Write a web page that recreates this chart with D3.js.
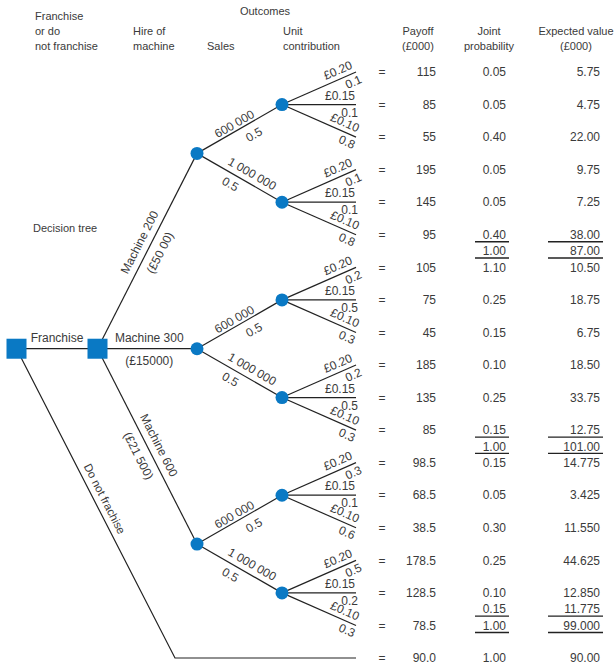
<!DOCTYPE html>
<html><head><meta charset="utf-8">
<script src="https://cdn.jsdelivr.net/npm/d3@7"></script>
<style>
body{margin:0;background:#fff}
text{font-family:"Liberation Sans",Arial,sans-serif;fill:#3a3a3a}
</style>
</head><body><svg id="chart" width="616" height="665"></svg>
<script>
// ---------- data ----------
const machines = ["Machine 200", "Machine 300", "Machine 600"];
const machineCosts = ["(£50 00)", "(£15000)", "(£21 500)"];
const salesLevels = ["600 000", "1 000 000"];
const salesProbs = ["0.5", "0.5"];
const unitContribs = ["£0.20", "£0.15", "£0.10"];
const contribProbs = [
  [["0.1", "0.1", "0.8"], ["0.1", "0.1", "0.8"]],
  [["0.2", "0.5", "0.3"], ["0.2", "0.5", "0.3"]],
  [["0.3", "0.1", "0.6"], ["0.5", "0.2", "0.3"]]
];
const payoffs = ["115","85","55","195","145","95","105","75","45","185","135","85","98.5","68.5","38.5","178.5","128.5","78.5","90.0"];
const tableRows = [0,1,2,3,4,5,5.5,6,7,8,9,10,11,11.5,12,13,14,15,16,16.5,17,18];
const jointProbs = ["0.05","0.05","0.40","0.05","0.05","0.40","1.00","1.10","0.25","0.15","0.10","0.25","0.15","1.00","0.15","0.05","0.30","0.25","0.10","0.15","1.00","1.00"];
const expectedValues = ["5.75","4.75","22.00","9.75","7.25","38.00","87.00","10.50","18.75","6.75","18.50","33.75","12.75","101.00","14.775","3.425","11.550","44.625","12.850","11.775","99.000","90.00"];
const underlined = [0,0,0,0,0,1,1,0,0,0,0,0,1,1,0,0,0,0,0,1,1,0];
const headerLines = [
  {col:"c1", lines:["Franchise","or do","not franchise"], anchor:"start"},
  {col:"c2", lines:["","Hire of","machine"], anchor:"start"},
  {col:"c3", lines:["","","Sales"], anchor:"start"},
  {col:"c4", lines:["","Unit","contribution"], anchor:"start"},
  {col:"c5", lines:["","Payoff","(£000)"], anchor:"middle"},
  {col:"c6", lines:["","Joint","probability"], anchor:"middle"},
  {col:"c7", lines:["","Expected value","(£000)"], anchor:"middle"}
];
const outcomesTitle = "Outcomes";
const chartTitle = "Decision tree";
const franchiseLabel = "Franchise";
const noFranchiseLabel = "Do not frachise";

// ---------- scales ----------
const rowY = d3.scaleLinear().domain([0, 18]).range([72, 658]);
const depthX = d3.scaleOrdinal().domain([0,1,2,3,4,"elbow"]).range([16.5, 97.5, 197, 282, 356, 175]);
const colX = d3.scaleOrdinal().domain(["eq","payoff","joint","ev","c1","c2","c3","c4","c5","c6","c7","outcomes"])
  .range([382, 436, 506, 600, 35, 133, 207, 283, 418, 489, 576, 265]);
const headY = d3.scaleLinear().domain([0, 2]).range([16, 46]);

const BLUE = "#0a79c4", INK = "#222";
const svg = d3.select("#chart");

// ---------- tree structure ----------
let leafIdx = 0;
const treeData = {type: "decision", children: [
  {type: "decision", edge: franchiseLabel, children: machines.map((m, i) => ({
    type: "chance", edge: m, edge2: machineCosts[i], mi: i,
    children: salesLevels.map((s, j) => ({
      type: "chance", edge: s, edge2: salesProbs[j], sj: j,
      children: unitContribs.map((u, k) => ({type: "leaf", edge: u, edge2: contribProbs[i][j][k], row: leafIdx++, k}))
    }))
  }))},
  {type: "terminal", edge: noFranchiseLabel, row: 18}
]};
const root = d3.hierarchy(treeData);
root.eachAfter(n => {
  n.px = n.data.type === "terminal" ? depthX(4) : depthX(n.depth);
  if (n.data.row != null) n.py = rowY(n.data.row);
  else n.py = d3.mean(n.children.filter(c => c.data.type !== "terminal"), c => c.py);
});

const gLinks = svg.append("g");
const gLabels = svg.append("g");
const gNodes = svg.append("g");

function along(x1, y1, x2, y2, t, off, text, opts = {}) {
  const ang = Math.atan2(y2 - y1, x2 - x1) * 180 / Math.PI;
  const px = x1 + (x2 - x1) * t, py = y1 + (y2 - y1) * t;
  gLabels.append("text")
    .attr("transform", `translate(${px},${py}) rotate(${ang})`)
    .attr("x", opts.dx || 0).attr("y", off).attr("dy", "0.35em")
    .attr("text-anchor", opts.anchor || "middle")
    .style("font-size", (opts.size || 12) + "px")
    .text(text);
}

root.descendants().forEach(n => {
  if (!n.parent) return;
  const p = n.parent, d = n.data;
  if (d.type === "terminal") {
    gLinks.append("polyline")
      .attr("points", [[p.px, p.py], [depthX("elbow"), n.py], [n.px, n.py]].map(q => q.join(",")).join(" "))
      .attr("fill", "none").attr("stroke", INK).attr("stroke-width", 1.2);
    along(p.px, p.py, depthX("elbow"), n.py, 0.5, -10, d.edge, {size: 11.5});
    return;
  }
  gLinks.append("line").attr("x1", p.px).attr("y1", p.py).attr("x2", n.px).attr("y2", n.py)
    .attr("stroke", INK).attr("stroke-width", 1.2);
  if (n.depth === 1) {
    along(p.px, p.py, n.px, n.py, 0.5, -11, d.edge);
  } else if (n.depth === 2) {
    along(p.px, p.py, n.px, n.py, 0.52, -11, d.edge);
    along(p.px, p.py, n.px, n.py, 0.52, 12, d.edge2);
  } else if (n.depth === 3) {
    if (d.sj === 0) {
      along(p.px, p.py, n.px, n.py, 0.48, -7, d.edge);
      along(p.px, p.py, n.px, n.py, 0.6, 12, d.edge2);
    } else {
      along(p.px, p.py, n.px, n.py, 0.59, -10, d.edge);
      along(p.px, p.py, n.px, n.py, 0.45, 10, d.edge2);
    }
  } else if (n.depth === 4) {
    along(p.px, p.py, n.px, n.py, 1, -9, d.edge, {anchor: "end", dx: -1});
    along(p.px, p.py, n.px, n.py, 1, 8, d.edge2, {anchor: "end", dx: 2});
  }
});

// nodes
root.descendants().forEach(n => {
  if (n.data.type === "decision") {
    gNodes.append("rect").attr("x", n.px - 10).attr("y", n.py - 10).attr("width", 20).attr("height", 20).attr("fill", BLUE);
  } else if (n.data.type === "chance") {
    gNodes.append("circle").attr("cx", n.px).attr("cy", n.py).attr("r", 6.5).attr("fill", BLUE);
  }
});

// ---------- headers ----------
headerLines.forEach(h => h.lines.forEach((l, i) => {
  if (!l) return;
  svg.append("text").attr("x", colX(h.col)).attr("y", headY(i)).attr("dy", "0.35em")
    .attr("text-anchor", h.anchor).style("font-size", "11px").text(l);
}));
svg.append("text").attr("x", colX("outcomes")).attr("y", 11).attr("dy", "0.35em")
  .attr("text-anchor", "middle").style("font-size", "11px").text(outcomesTitle);
svg.append("text").attr("x", 33).attr("y", 228).attr("dy", "0.35em")
  .style("font-size", "11px").text(chartTitle);

// ---------- table ----------
const gTab = svg.append("g").style("font-size", "12px");
payoffs.forEach((p, i) => {
  gTab.append("text").attr("x", colX("eq")).attr("y", rowY(i)).attr("dy", "0.35em").attr("text-anchor", "middle").text("=");
  gTab.append("text").attr("x", colX("payoff")).attr("y", rowY(i)).attr("dy", "0.35em").attr("text-anchor", "end").text(p);
});
tableRows.forEach((r, i) => {
  gTab.append("text").attr("x", colX("joint")).attr("y", rowY(r)).attr("dy", "0.35em").attr("text-anchor", "end").text(jointProbs[i]);
  gTab.append("text").attr("x", colX("ev")).attr("y", rowY(r)).attr("dy", "0.35em").attr("text-anchor", "end").text(expectedValues[i]);
  if (underlined[i]) {
    const yy = rowY(r) + 7;
    gTab.append("line").attr("x1", colX("joint") - 31).attr("x2", colX("joint") + 3).attr("y1", yy).attr("y2", yy).attr("stroke", INK).attr("stroke-width", 1.4);
    gTab.append("line").attr("x1", colX("ev") - 52).attr("x2", colX("ev") + 3).attr("y1", yy).attr("y2", yy).attr("stroke", INK).attr("stroke-width", 1.4);
  }
});
</script>
</body></html>
